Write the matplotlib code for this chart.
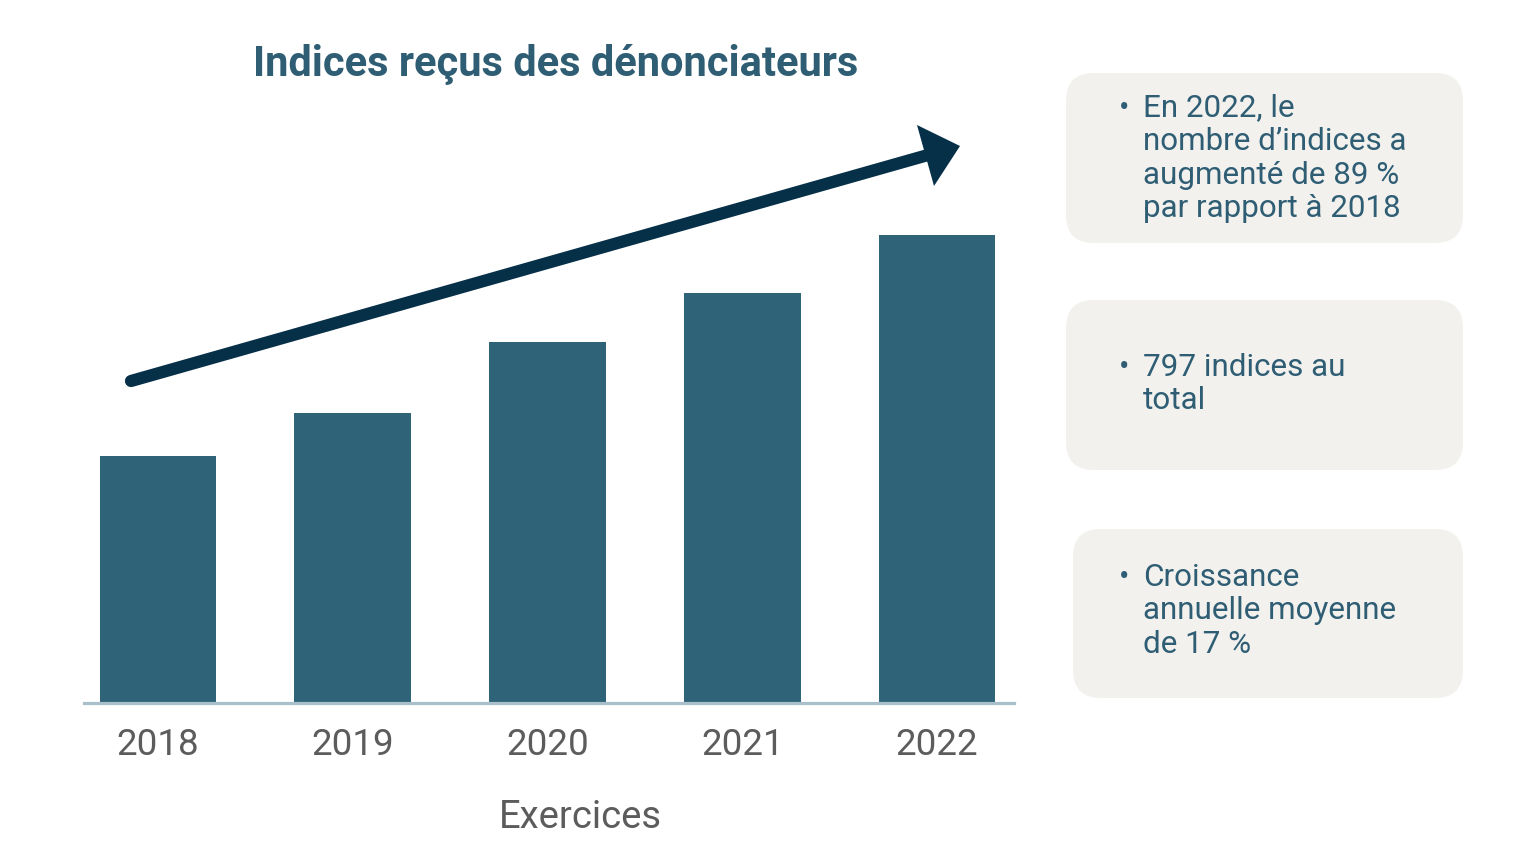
import matplotlib
matplotlib.use("Agg")
from matplotlib import pyplot as plt
from matplotlib.patches import FancyBboxPatch, Polygon

plt.rcParams['font.family'] = ['Roboto', 'DejaVu Sans']

# data
years = ['2018', '2019', '2020', '2021', '2022']
indices = [111, 130, 162, 184, 210]

title = 'Indices reçus des dénonciateurs'
xlabel = 'Exercices'
notes = [
    ['En 2022, le', 'nombre d\u2019indices a', 'augmenté de 89 %', 'par rapport à 2018'],
    ['797 indices au', 'total'],
    ['Croissance', 'annuelle moyenne', 'de 17 %'],
]

# colours
bar_col = '#2f6378'
text_col = '#2e5d74'
arrow_col = '#062f48'
box_col = '#f2f1ed'
axis_col = '#a9bfc9'
tick_col = '#5c5c5c'

W, H = 1535, 856
fig = plt.figure(figsize=(W / 100, H / 100), dpi=100)


def px_box(x0, y0, x1, y1):
    # pixel box (top-left origin) -> figure fraction rect
    return [x0 / W, (H - y1) / H, (x1 - x0) / W, (y1 - y0) / H]


ax = fig.add_axes(px_box(84, 100, 1014, 703))
pos = list(range(len(years)))
ax.bar(pos, indices, width=0.6, color=bar_col, zorder=2)
ax.set_xlim(-0.38, 4.395)
ax.set_ylim(0, 270.6)
for s in ['top', 'right', 'left']:
    ax.spines[s].set_visible(False)
ax.spines['bottom'].set_color(axis_col)
ax.spines['bottom'].set_linewidth(2.3)
ax.set_yticks([])
ax.set_xticks(pos)
ax.set_xticklabels(years, fontsize=26.5, color=tick_col)
ax.tick_params(axis='x', length=0, pad=17.5)
ax.set_xlabel(xlabel, fontsize=27.5, color=tick_col)
ax.xaxis.set_label_coords((580 - 84) / 930, -(817 - 703) / 603)
ax.xaxis.label.set_va('center')

# overlay in pixel coordinates for arrow, title and note boxes
ov = fig.add_axes([0, 0, 1, 1])
ov.set_xlim(0, W)
ov.set_ylim(H, 0)
ov.axis('off')
ov.patch.set_alpha(0)

ov.text(556, 64, title, fontsize=30, fontweight='bold', color=text_col,
        ha='center', va='center')

# trend arrow
ov.plot([131, 928], [381, 155], color=arrow_col, lw=8.8, solid_capstyle='round')
ov.add_patch(Polygon([[917, 125], [960, 146], [934, 186]], closed=True,
                     color=arrow_col, lw=0))

boxes = [(1066, 73, 1463, 243), (1066, 300, 1463, 470), (1073, 529, 1463, 698)]
first_line = [108, 367, 577]
for (x0, y0, x1, y1), lines, ty in zip(boxes, notes, first_line):
    ov.add_patch(FancyBboxPatch((x0, y0), x1 - x0, y1 - y0,
                                boxstyle='round,pad=0,rounding_size=28',
                                fc=box_col, ec='none'))
    ov.text(1124, ty, '\u2022', fontsize=22, color=text_col, ha='center', va='center')
    for i, line in enumerate(lines):
        ov.text(1143, ty + i * 33.6, line, fontsize=22.6, color=text_col,
                ha='left', va='center')

fig.savefig('out.png', dpi=100)
